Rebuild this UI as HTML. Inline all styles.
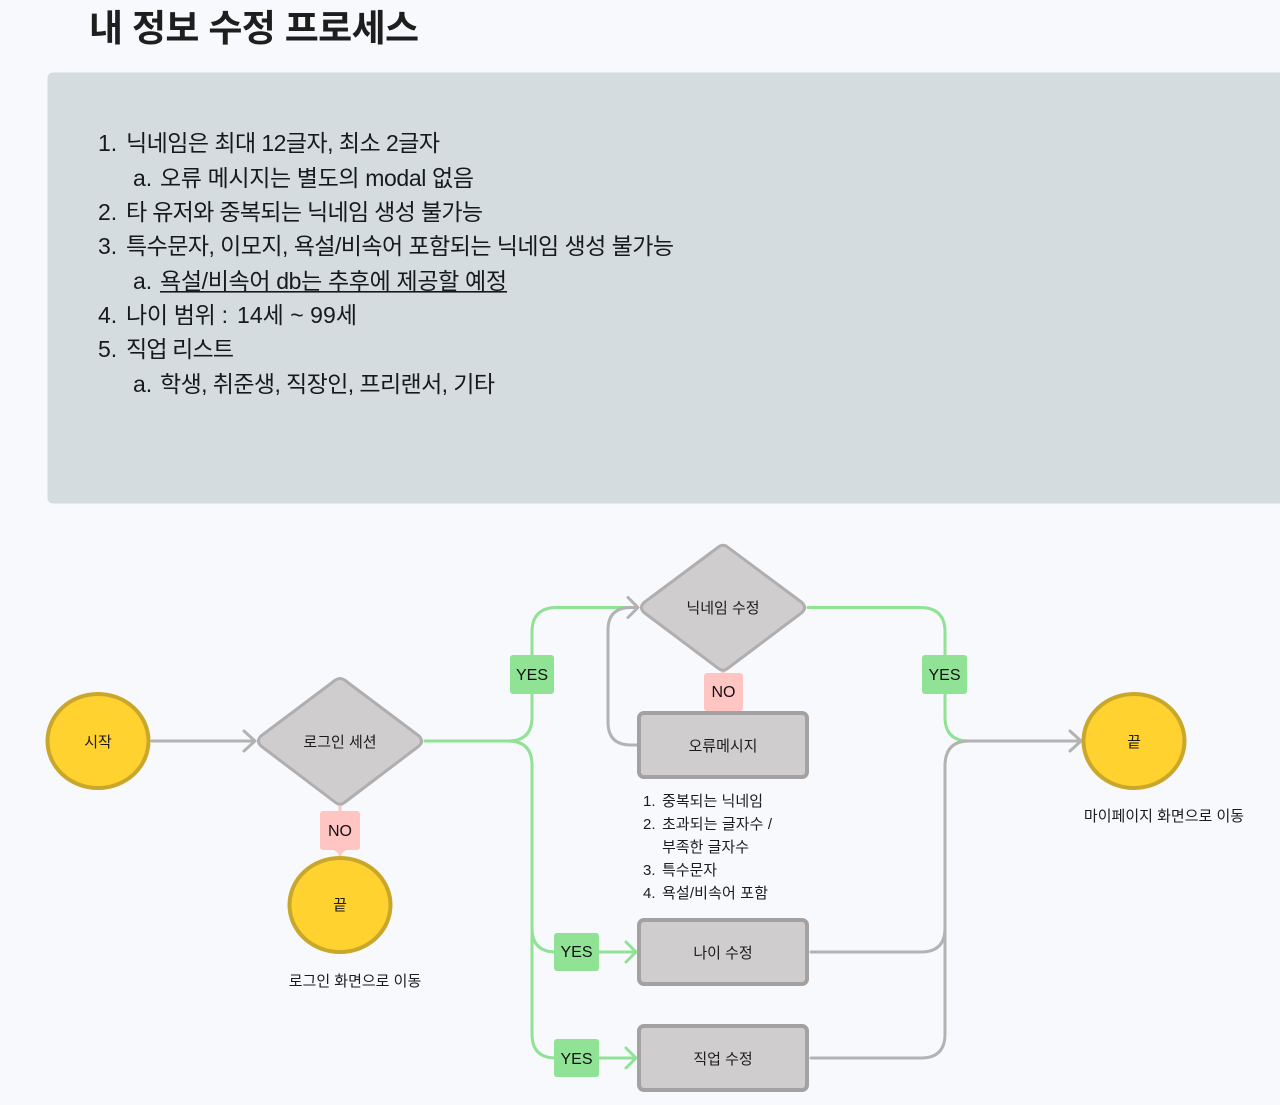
<!DOCTYPE html>
<html lang="ko"><head><meta charset="utf-8"><title>내 정보 수정 프로세스</title>
<style>
html,body{margin:0;padding:0;background:#f8f9fd;width:1280px;height:1105px;overflow:hidden}
svg{display:block}
text{font-family:"Liberation Sans","Noto Sans CJK KR",sans-serif;fill:#111}
.l{font-size:23px;fill:#151a1c}
.s{font-size:15px;fill:#1c1c1c}
.n{font-size:15px;fill:#1c1c1c;text-anchor:middle}
.b{font-size:16px;fill:#111;text-anchor:middle}
.g{fill:none;stroke:#90e295;stroke-width:3;stroke-linecap:round;stroke-linejoin:round}
.y{fill:none;stroke:#b3b3b3;stroke-width:3;stroke-linecap:round;stroke-linejoin:round}
.r{fill:#cfcdce;stroke:#a3a1a1;stroke-width:4}
.d{fill:#cfcdce;stroke:#b0aeae;stroke-width:3;stroke-linejoin:round}
.c{fill:#ffd230;stroke:#c9a72b;stroke-width:4}
</style></head><body>
<svg width="1280" height="1105" viewBox="0 0 1280 1105" xmlns="http://www.w3.org/2000/svg">
<text x="89" y="41" font-size="37" font-weight="700" style="fill:#1e1e1e" textLength="330" lengthAdjust="spacing">내 정보 수정 프로세스</text>
<path d="M1280 72.500H53a5.500 5.500 0 0 0-5.500 5.500V498a5.500 5.500 0 0 0 5.500 5.500H1280Z" fill="#d5dcdf"/>

<text class="l" x="98" y="151">1.</text><text class="l" x="126" y="151" textLength="314" lengthAdjust="spacing">닉네임은 최대 12글자, 최소 2글자</text>
<text class="l" x="133" y="186">a.</text><text class="l" x="160" y="186" textLength="314" lengthAdjust="spacing">오류 메시지는 별도의 modal 없음</text>
<text class="l" x="98" y="220">2.</text><text class="l" x="126" y="220" textLength="357" lengthAdjust="spacing">타 유저와 중복되는 닉네임 생성 불가능</text>
<text class="l" x="98" y="254">3.</text><text class="l" x="126" y="254" textLength="548" lengthAdjust="spacing">특수문자, 이모지, 욕설/비속어 포함되는 닉네임 생성 불가능</text>
<text class="l" x="133" y="289">a.</text><text class="l" x="160" y="289" textLength="347" lengthAdjust="spacing">욕설/비속어 db는 추후에 제공할 예정</text>
<rect x="160" y="291" width="347" height="1.6" fill="#151a1c"/>
<text class="l" x="98" y="323">4.</text><text class="l" x="126" y="323" textLength="102" lengthAdjust="spacing">나이 범위 :</text><text class="l" x="237" y="323" textLength="120" lengthAdjust="spacing">14세 ~ 99세</text>
<text class="l" x="98" y="357">5.</text><text class="l" x="126" y="357" textLength="108" lengthAdjust="spacing">직업 리스트</text>
<text class="l" x="133" y="392">a.</text><text class="l" x="160" y="392" textLength="335" lengthAdjust="spacing">학생, 취준생, 직장인, 프리랜서, 기타</text>

<!-- connectors -->
<path class="y" d="M152 741H254M244 731L255 741L244 751"/>
<path d="M340 806V856" stroke="#ffc5c2" stroke-width="3" fill="none"/>
<path class="g" d="M425 741H508Q532 741 532 717V632Q532 607.500 557 607.500H636"/>
<path class="g" d="M508 741Q532 741 532 765V1034Q532 1058 556 1058H634M532 928Q532 952 556 952H634"/>
<path class="g" d="M626 942L636 952L626 962M626 1048L636 1058L626 1068"/>
<path class="y" d="M637 745H631Q608 745 608 722V630Q608 607.500 631 607.500H637"/>
<path class="y" d="M628 597.500L638 607.500L628 617.500"/>
<path class="g" d="M808 607.500H920Q945 607.500 945 632V717Q945 741 969 741"/>
<path d="M723 670V714" stroke="#ffc5c2" stroke-width="3" fill="none"/>
<path class="y" d="M811 952H921Q945 952 945 928V766Q945 741 969 741H1080"/>
<path class="y" d="M811 1058H921Q945 1058 945 1034V928"/>
<path class="y" d="M1070 731L1081 741L1070 751"/>

<!-- start / end -->
<ellipse class="c" cx="98" cy="741" rx="50.500" ry="47"/>
<text class="n" x="98" y="747">시작</text>
<ellipse class="c" cx="340" cy="905" rx="50.500" ry="47"/>
<text class="n" x="340" y="910">끝</text>
<text class="n" x="355" y="986">로그인 화면으로 이동</text>
<ellipse class="c" cx="1134" cy="741" rx="50.500" ry="47"/>
<text class="n" x="1134" y="747">끝</text>
<text class="n" x="1164" y="821">마이페이지 화면으로 이동</text>

<!-- diamonds -->
<path class="d" d="M335.500 680Q340 677 344.500 680L419 736Q424 741 419 746L344.500 802.500Q340 806 335.500 802.500L261 746Q256 741 261 736Z"/>
<text class="n" x="340" y="747">로그인 세션</text>
<path class="d" d="M718.500 547Q723 543.500 727.500 547L802 602.500Q807 607.500 802 612.500L727.500 668.500Q723 672 718.500 668.500L644 612.500Q639 607.500 644 602.500Z"/>
<text class="n" x="723" y="613">닉네임 수정</text>

<!-- rects -->
<rect class="r" x="639" y="713" width="168" height="64" rx="5"/>
<text class="n" x="723" y="751">오류메시지</text>
<rect class="r" x="639" y="920" width="168" height="64" rx="5"/>
<text class="n" x="723" y="958">나이 수정</text>
<rect class="r" x="639" y="1026" width="168" height="64" rx="5"/>
<text class="n" x="723" y="1064">직업 수정</text>

<!-- labels -->
<rect x="510" y="655" width="44" height="39" rx="3" fill="#90e295"/><text class="b" x="532" y="680">YES</text>
<rect x="922" y="655" width="45" height="39" rx="3" fill="#90e295"/><text class="b" x="944.500" y="680">YES</text>
<rect x="554" y="933" width="45" height="38" rx="3" fill="#90e295"/><text class="b" x="576.500" y="957">YES</text>
<rect x="554" y="1039" width="45" height="38" rx="3" fill="#90e295"/><text class="b" x="576.500" y="1064">YES</text>
<path d="M323 811H357a3 3 0 0 1 3 3V847a3 3 0 0 1-3 3H346L340 855L334 850H323a3 3 0 0 1-3-3V814a3 3 0 0 1 3-3Z" fill="#ffc5c2"/><text class="b" x="340" y="836">NO</text>
<rect x="704" y="673" width="39" height="38" rx="3" fill="#ffc5c2"/><text class="b" x="723.500" y="697">NO</text>

<!-- note list -->
<text class="s" x="643" y="806">1.</text><text class="s" x="662" y="806" textLength="101" lengthAdjust="spacing">중복되는 닉네임</text>
<text class="s" x="643" y="829">2.</text><text class="s" x="662" y="829" textLength="110" lengthAdjust="spacing">초과되는 글자수 /</text>
<text class="s" x="662" y="852" textLength="87" lengthAdjust="spacing">부족한 글자수</text>
<text class="s" x="643" y="875">3.</text><text class="s" x="662" y="875" textLength="55" lengthAdjust="spacing">특수문자</text>
<text class="s" x="643" y="898">4.</text><text class="s" x="662" y="898" textLength="106" lengthAdjust="spacing">욕설/비속어 포함</text>
</svg>
</body></html>
